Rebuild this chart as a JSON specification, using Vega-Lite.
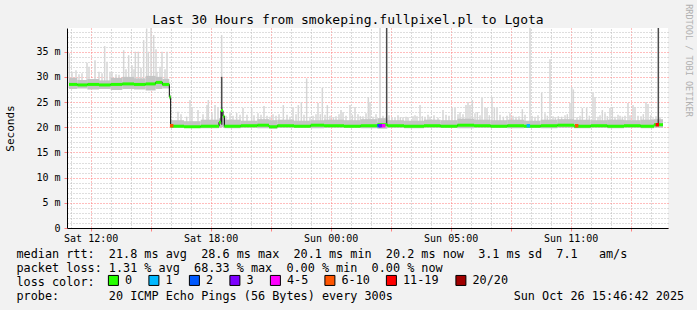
{
  "$schema": "https://vega.github.io/schema/vega-lite/v6.json",
  "width": 601,
  "height": 200,
  "autosize": "none",
  "padding": {"left": 67, "top": 28, "right": 29, "bottom": 82},
  "background": "#f2f2f2",
  "config": {
    "view": {"fill": "#ffffff", "stroke": null},
    "font": "DejaVu Sans Mono",
    "axis": {"labelFont": "DejaVu Sans Mono", "titleFont": "DejaVu Sans Mono", "labelColor": "#000000", "titleColor": "#000000", "titleFontWeight": "normal", "labelOverlap": false, "labelBound": false, "labelFlush": false},
    "legend": {"labelFont": "DejaVu Sans Mono", "titleFont": "DejaVu Sans Mono"}
  },
  "datasets": {
    "seg": [
      {"t": -65, "t2": -40, "lo": 27.6, "q": 29.8, "m": 28.5},
      {"t": -40, "t2": -10, "lo": 27.7, "q": 29.4, "m": 28.4},
      {"t": -10, "t2": 25, "lo": 27.5, "q": 29.6, "m": 28.5},
      {"t": 25, "t2": 60, "lo": 27.6, "q": 29.3, "m": 28.4},
      {"t": 60, "t2": 95, "lo": 27.4, "q": 29.8, "m": 28.5},
      {"t": 95, "t2": 130, "lo": 27.6, "q": 30.0, "m": 28.6},
      {"t": 130, "t2": 165, "lo": 27.5, "q": 29.7, "m": 28.5},
      {"t": 165, "t2": 195, "lo": 27.3, "q": 30.2, "m": 28.6},
      {"t": 195, "t2": 215, "lo": 27.6, "q": 30.0, "m": 28.9},
      {"t": 215, "t2": 236, "lo": 27.7, "q": 29.6, "m": 28.5},
      {"t": 236, "t2": 240, "lo": 25.5, "q": 26.5, "m": 26.0},
      {"t": 240, "t2": 280, "lo": 19.9, "q": 21.4, "m": 20.2},
      {"t": 280, "t2": 330, "lo": 19.9, "q": 21.2, "m": 20.1},
      {"t": 330, "t2": 385, "lo": 19.8, "q": 21.5, "m": 20.2},
      {"t": 385, "t2": 391, "lo": 19.9, "q": 21.8, "m": 21.0},
      {"t": 391, "t2": 397, "lo": 20.0, "q": 24.0, "m": 23.3},
      {"t": 397, "t2": 401, "lo": 19.9, "q": 22.5, "m": 22.2},
      {"t": 401, "t2": 450, "lo": 19.8, "q": 21.5, "m": 20.2},
      {"t": 450, "t2": 500, "lo": 19.9, "q": 21.3, "m": 20.3},
      {"t": 500, "t2": 535, "lo": 19.8, "q": 21.6, "m": 20.4},
      {"t": 535, "t2": 560, "lo": 19.7, "q": 21.4, "m": 20.1},
      {"t": 560, "t2": 610, "lo": 19.9, "q": 21.5, "m": 20.3},
      {"t": 610, "t2": 660, "lo": 19.9, "q": 21.3, "m": 20.2},
      {"t": 660, "t2": 700, "lo": 19.8, "q": 21.4, "m": 20.4},
      {"t": 700, "t2": 760, "lo": 19.9, "q": 21.5, "m": 20.3},
      {"t": 760, "t2": 810, "lo": 19.9, "q": 21.4, "m": 20.2},
      {"t": 810, "t2": 860, "lo": 19.8, "q": 21.6, "m": 20.3},
      {"t": 860, "t2": 890, "lo": 19.7, "q": 21.8, "m": 20.5},
      {"t": 890, "t2": 940, "lo": 19.9, "q": 21.4, "m": 20.3},
      {"t": 940, "t2": 1000, "lo": 19.8, "q": 21.3, "m": 20.2},
      {"t": 1000, "t2": 1050, "lo": 19.9, "q": 21.5, "m": 20.3},
      {"t": 1050, "t2": 1100, "lo": 19.9, "q": 21.4, "m": 20.2},
      {"t": 1100, "t2": 1150, "lo": 19.8, "q": 21.7, "m": 20.4},
      {"t": 1150, "t2": 1200, "lo": 19.9, "q": 21.5, "m": 20.3},
      {"t": 1200, "t2": 1250, "lo": 19.9, "q": 21.4, "m": 20.2},
      {"t": 1250, "t2": 1300, "lo": 19.8, "q": 21.5, "m": 20.3},
      {"t": 1300, "t2": 1350, "lo": 19.9, "q": 21.3, "m": 20.2},
      {"t": 1350, "t2": 1400, "lo": 19.8, "q": 21.5, "m": 20.3},
      {"t": 1400, "t2": 1450, "lo": 19.9, "q": 21.6, "m": 20.4},
      {"t": 1450, "t2": 1500, "lo": 19.8, "q": 21.5, "m": 20.2},
      {"t": 1500, "t2": 1550, "lo": 19.9, "q": 21.4, "m": 20.3},
      {"t": 1550, "t2": 1600, "lo": 19.8, "q": 21.5, "m": 20.2},
      {"t": 1600, "t2": 1650, "lo": 19.9, "q": 21.4, "m": 20.3},
      {"t": 1650, "t2": 1690, "lo": 19.8, "q": 21.5, "m": 20.2},
      {"t": 1690, "t2": 1717, "lo": 19.9, "q": 21.6, "m": 20.5}
    ],
    "spikes": [
      {"t": -64, "lo": 28, "hi": 34.7}, {"t": -56, "lo": 28, "hi": 31.0}, {"t": -44, "lo": 28, "hi": 31.3},
      {"t": -35, "lo": 28, "hi": 30.5}, {"t": -26, "lo": 28, "hi": 30.7}, {"t": -11, "lo": 28, "hi": 32.8},
      {"t": -5, "lo": 28, "hi": 32.0}, {"t": 13, "lo": 28, "hi": 33.3}, {"t": 25, "lo": 28, "hi": 31.0},
      {"t": 34, "lo": 28, "hi": 30.7}, {"t": 42, "lo": 28, "hi": 36.1}, {"t": 49, "lo": 28, "hi": 33.0},
      {"t": 58, "lo": 28, "hi": 31.0}, {"t": 64, "lo": 28, "hi": 31.0}, {"t": 76, "lo": 28, "hi": 30.5},
      {"t": 85, "lo": 28, "hi": 30.4}, {"t": 99, "lo": 28, "hi": 35.3}, {"t": 106, "lo": 28, "hi": 31.5},
      {"t": 114, "lo": 28, "hi": 34.3}, {"t": 124, "lo": 28, "hi": 32.3}, {"t": 130, "lo": 28, "hi": 31.5},
      {"t": 134, "lo": 28, "hi": 35.0}, {"t": 143, "lo": 28, "hi": 35.0}, {"t": 151, "lo": 28, "hi": 31.8},
      {"t": 159, "lo": 28, "hi": 37.3}, {"t": 168, "lo": 28, "hi": 39.6}, {"t": 173, "lo": 28, "hi": 35.0},
      {"t": 181, "lo": 28, "hi": 39.7}, {"t": 189, "lo": 28, "hi": 38.3}, {"t": 196, "lo": 28, "hi": 35.5},
      {"t": 199, "lo": 28, "hi": 31.0}, {"t": 208, "lo": 28, "hi": 32.0}, {"t": 214, "lo": 28, "hi": 35.0},
      {"t": 223, "lo": 28, "hi": 31.5}, {"t": 229, "lo": 28, "hi": 35.0},
      {"t": 262, "lo": 20.3, "hi": 23.1}, {"t": 271, "lo": 20.3, "hi": 22.6}, {"t": 288, "lo": 20.3, "hi": 22.1},
      {"t": 298, "lo": 20.3, "hi": 25.4}, {"t": 304, "lo": 20.3, "hi": 24.0}, {"t": 322, "lo": 20.3, "hi": 23.4},
      {"t": 337, "lo": 20.3, "hi": 22.6}, {"t": 349, "lo": 20.3, "hi": 24.4}, {"t": 353, "lo": 20.3, "hi": 25.4},
      {"t": 364, "lo": 20.3, "hi": 22.8}, {"t": 373, "lo": 20.3, "hi": 24.4}, {"t": 382, "lo": 20.3, "hi": 24.0},
      {"t": 393, "lo": 20.3, "hi": 38.3}, {"t": 406, "lo": 20.3, "hi": 22.3}, {"t": 418, "lo": 20.3, "hi": 22.8},
      {"t": 427, "lo": 20.3, "hi": 22.3}, {"t": 438, "lo": 20.3, "hi": 22.8}, {"t": 448, "lo": 20.3, "hi": 22.5},
      {"t": 457, "lo": 20.3, "hi": 23.8}, {"t": 469, "lo": 20.3, "hi": 22.5}, {"t": 483, "lo": 20.3, "hi": 23.8},
      {"t": 490, "lo": 20.3, "hi": 22.4}, {"t": 502, "lo": 20.3, "hi": 22.8}, {"t": 511, "lo": 20.3, "hi": 22.5},
      {"t": 520, "lo": 20.3, "hi": 24.2}, {"t": 529, "lo": 20.3, "hi": 22.3}, {"t": 538, "lo": 20.3, "hi": 22.1},
      {"t": 547, "lo": 20.3, "hi": 22.6}, {"t": 556, "lo": 20.3, "hi": 22.3}, {"t": 565, "lo": 20.3, "hi": 22.6},
      {"t": 578, "lo": 20.3, "hi": 24.4}, {"t": 589, "lo": 20.3, "hi": 22.5}, {"t": 598, "lo": 20.3, "hi": 22.1},
      {"t": 607, "lo": 20.3, "hi": 23.8}, {"t": 616, "lo": 20.3, "hi": 22.6}, {"t": 623, "lo": 20.3, "hi": 24.4},
      {"t": 632, "lo": 20.3, "hi": 25.0}, {"t": 640, "lo": 20.3, "hi": 22.5}, {"t": 648, "lo": 20.3, "hi": 29.7},
      {"t": 658, "lo": 20.3, "hi": 22.1}, {"t": 667, "lo": 20.3, "hi": 22.3}, {"t": 676, "lo": 20.3, "hi": 22.6},
      {"t": 682, "lo": 20.3, "hi": 24.8}, {"t": 689, "lo": 20.3, "hi": 22.6}, {"t": 695, "lo": 20.3, "hi": 27.8},
      {"t": 703, "lo": 20.3, "hi": 22.5}, {"t": 710, "lo": 20.3, "hi": 24.4}, {"t": 718, "lo": 20.3, "hi": 22.3},
      {"t": 728, "lo": 20.3, "hi": 22.0}, {"t": 736, "lo": 20.3, "hi": 22.2}, {"t": 745, "lo": 20.3, "hi": 22.6},
      {"t": 751, "lo": 20.3, "hi": 23.4}, {"t": 757, "lo": 20.3, "hi": 23.0}, {"t": 766, "lo": 20.3, "hi": 22.3},
      {"t": 778, "lo": 20.3, "hi": 24.4}, {"t": 785, "lo": 20.3, "hi": 22.5}, {"t": 793, "lo": 20.3, "hi": 24.0},
      {"t": 802, "lo": 20.3, "hi": 22.6}, {"t": 809, "lo": 20.3, "hi": 22.2}, {"t": 817, "lo": 20.3, "hi": 22.2},
      {"t": 826, "lo": 20.3, "hi": 22.8}, {"t": 833, "lo": 20.3, "hi": 26.0}, {"t": 838, "lo": 20.3, "hi": 25.0},
      {"t": 847, "lo": 20.3, "hi": 22.1}, {"t": 856, "lo": 20.3, "hi": 22.6}, {"t": 868, "lo": 20.3, "hi": 40.5},
      {"t": 877, "lo": 20.3, "hi": 22.3}, {"t": 895, "lo": 20.3, "hi": 22.4}, {"t": 904, "lo": 20.3, "hi": 22.0},
      {"t": 913, "lo": 20.3, "hi": 21.9}, {"t": 922, "lo": 20.3, "hi": 22.4}, {"t": 929, "lo": 20.3, "hi": 22.0},
      {"t": 937, "lo": 20.3, "hi": 22.0}, {"t": 946, "lo": 20.3, "hi": 22.1}, {"t": 952, "lo": 20.3, "hi": 22.0},
      {"t": 967, "lo": 20.3, "hi": 22.2}, {"t": 973, "lo": 20.3, "hi": 22.4}, {"t": 979, "lo": 20.3, "hi": 22.2},
      {"t": 988, "lo": 20.3, "hi": 24.4}, {"t": 995, "lo": 20.3, "hi": 22.2}, {"t": 1003, "lo": 20.3, "hi": 22.1},
      {"t": 1012, "lo": 20.3, "hi": 22.5}, {"t": 1018, "lo": 20.3, "hi": 22.1}, {"t": 1030, "lo": 20.3, "hi": 22.4},
      {"t": 1042, "lo": 20.3, "hi": 21.9}, {"t": 1057, "lo": 20.3, "hi": 23.4}, {"t": 1066, "lo": 20.3, "hi": 22.5},
      {"t": 1075, "lo": 20.3, "hi": 22.3}, {"t": 1084, "lo": 20.3, "hi": 23.8}, {"t": 1093, "lo": 20.3, "hi": 23.8},
      {"t": 1102, "lo": 20.3, "hi": 22.6}, {"t": 1108, "lo": 20.3, "hi": 23.0}, {"t": 1117, "lo": 20.3, "hi": 22.6},
      {"t": 1126, "lo": 20.3, "hi": 24.4}, {"t": 1132, "lo": 20.3, "hi": 25.0}, {"t": 1138, "lo": 20.3, "hi": 24.4},
      {"t": 1145, "lo": 20.3, "hi": 25.4}, {"t": 1153, "lo": 20.3, "hi": 22.8}, {"t": 1160, "lo": 20.3, "hi": 23.0},
      {"t": 1168, "lo": 20.3, "hi": 22.4}, {"t": 1174, "lo": 20.3, "hi": 25.8}, {"t": 1183, "lo": 20.3, "hi": 23.8},
      {"t": 1189, "lo": 20.3, "hi": 23.8}, {"t": 1196, "lo": 20.3, "hi": 22.4}, {"t": 1204, "lo": 20.3, "hi": 26.0},
      {"t": 1211, "lo": 20.3, "hi": 23.8}, {"t": 1219, "lo": 20.3, "hi": 23.8}, {"t": 1228, "lo": 20.3, "hi": 22.5},
      {"t": 1238, "lo": 20.3, "hi": 22.1}, {"t": 1249, "lo": 20.3, "hi": 22.3}, {"t": 1258, "lo": 20.3, "hi": 22.8},
      {"t": 1267, "lo": 20.3, "hi": 22.3}, {"t": 1276, "lo": 20.3, "hi": 22.1}, {"t": 1285, "lo": 20.3, "hi": 22.2},
      {"t": 1295, "lo": 20.3, "hi": 23.6}, {"t": 1303, "lo": 20.3, "hi": 22.5}, {"t": 1318, "lo": 20.3, "hi": 40.5},
      {"t": 1324, "lo": 20.3, "hi": 22.3}, {"t": 1333, "lo": 20.3, "hi": 22.1}, {"t": 1342, "lo": 20.3, "hi": 22.4},
      {"t": 1353, "lo": 20.3, "hi": 26.8}, {"t": 1363, "lo": 20.3, "hi": 22.8}, {"t": 1370, "lo": 20.3, "hi": 22.3},
      {"t": 1378, "lo": 20.3, "hi": 33.5}, {"t": 1387, "lo": 20.3, "hi": 22.2}, {"t": 1394, "lo": 20.3, "hi": 22.0},
      {"t": 1403, "lo": 20.3, "hi": 22.2}, {"t": 1413, "lo": 20.3, "hi": 22.1}, {"t": 1423, "lo": 20.3, "hi": 22.4},
      {"t": 1430, "lo": 20.3, "hi": 22.6}, {"t": 1438, "lo": 20.3, "hi": 24.8}, {"t": 1443, "lo": 20.3, "hi": 28.0},
      {"t": 1448, "lo": 20.3, "hi": 27.5}, {"t": 1459, "lo": 20.3, "hi": 22.0}, {"t": 1468, "lo": 20.3, "hi": 22.3},
      {"t": 1475, "lo": 20.3, "hi": 23.8}, {"t": 1488, "lo": 20.3, "hi": 23.8}, {"t": 1496, "lo": 20.3, "hi": 22.3},
      {"t": 1507, "lo": 20.3, "hi": 26.8}, {"t": 1513, "lo": 20.3, "hi": 26.0}, {"t": 1522, "lo": 20.3, "hi": 22.1},
      {"t": 1528, "lo": 20.3, "hi": 22.4}, {"t": 1535, "lo": 20.3, "hi": 23.4}, {"t": 1543, "lo": 20.3, "hi": 22.8},
      {"t": 1550, "lo": 20.3, "hi": 22.2}, {"t": 1558, "lo": 20.3, "hi": 23.8}, {"t": 1565, "lo": 20.3, "hi": 24.0},
      {"t": 1573, "lo": 20.3, "hi": 22.1}, {"t": 1582, "lo": 20.3, "hi": 22.5}, {"t": 1588, "lo": 20.3, "hi": 22.3},
      {"t": 1595, "lo": 20.3, "hi": 22.1}, {"t": 1603, "lo": 20.3, "hi": 22.3}, {"t": 1612, "lo": 20.3, "hi": 24.8},
      {"t": 1618, "lo": 20.3, "hi": 22.4}, {"t": 1627, "lo": 20.3, "hi": 24.4}, {"t": 1633, "lo": 20.3, "hi": 24.0},
      {"t": 1642, "lo": 20.3, "hi": 22.3}, {"t": 1651, "lo": 20.3, "hi": 22.2}, {"t": 1658, "lo": 20.3, "hi": 22.6},
      {"t": 1666, "lo": 20.3, "hi": 25.0}, {"t": 1672, "lo": 20.3, "hi": 24.6}, {"t": 1680, "lo": 20.3, "hi": 22.4},
      {"t": 1687, "lo": 20.3, "hi": 21.8}, {"t": 1696, "lo": 20.3, "hi": 22.2}, {"t": 1708, "lo": 20.3, "hi": 22.0}
    ],
    "vlines": [
      {"t": 393, "lo": 20.5, "hi": 30.0},
      {"t": 888, "lo": 20.5, "hi": 40.5},
      {"t": 1703, "lo": 20.5, "hi": 40.5}
    ],
    "loss": [
      {"t": 243, "m": 20.3, "l": "6-10"},
      {"t": 865, "m": 20.3, "l": "2"},
      {"t": 870, "m": 20.3, "l": "3"},
      {"t": 879, "m": 20.3, "l": "4-5"},
      {"t": 1313, "m": 20.3, "l": "1"},
      {"t": 1458, "m": 20.3, "l": "6-10"},
      {"t": 1700, "m": 20.5, "l": "11-19"}
    ]
  },
  "layer": [
    {
      "data": {"name": "spikes"},
      "mark": {"type": "rule", "color": "#d6d6d6", "strokeWidth": 1.5, "clip": true},
      "encoding": {
        "x": {
          "field": "t", "type": "quantitative",
          "scale": {"domain": [-71, 1732], "nice": false, "zero": false},
          "axis": {
            "orient": "top",
            "values": [-60, 60, 120, 240, 300, 420, 480, 600, 660, 780, 840, 960, 1020, 1140, 1200, 1320, 1380, 1500, 1560, 1680],
            "grid": true, "gridColor": "#b4b4b4", "gridDash": [1, 2], "gridWidth": 1,
            "labels": false, "ticks": false, "domain": false,
            "title": "Last 30 Hours from smokeping.fullpixel.pl to Lgota",
            "titleFontSize": 13, "titleX": 280.5, "titleY": -9, "titleAlign": "center", "titleBaseline": "middle", "titleAngle": 0
          }
        },
        "y": {
          "field": "hi", "type": "quantitative",
          "scale": {"domain": [0, 39.7], "nice": false, "zero": true},
          "axis": {
            "orient": "right",
            "values": [1, 2, 3, 4, 6, 7, 8, 9, 11, 12, 13, 14, 16, 17, 18, 19, 21, 22, 23, 24, 26, 27, 28, 29, 31, 32, 33, 34, 36, 37, 38, 39],
            "grid": true, "gridColor": "#bcbcbc", "gridDash": [1, 2], "gridWidth": 1,
            "labels": false, "ticks": false, "domain": false,
            "title": "RRDTOOL / TOBI OETIKER",
            "titleFontSize": 8.5, "titleColor": "#b0b0b0", "titleAngle": 90, "titleX": 20, "titleY": 32, "titleAlign": "center", "titleBaseline": "middle"
          }
        },
        "y2": {"field": "lo"}
      }
    },
    {
      "data": {"name": "seg"},
      "mark": {"type": "rect", "color": "#c4c4c4"},
      "encoding": {
        "x": {
          "field": "t", "type": "quantitative",
          "axis": {
            "orient": "bottom",
            "values": [0, 180, 360, 540, 720, 900, 1080, 1260, 1440, 1620],
            "labelExpr": "datum.value == 0 ? 'Sat 12:00' : datum.value == 360 ? 'Sat 18:00' : datum.value == 720 ? 'Sun 00:00' : datum.value == 1080 ? 'Sun 05:00' : datum.value == 1440 ? 'Sun 11:00' : ''",
            "labelFontSize": 10, "labelPadding": 2, "labelAngle": 0, "labelAlign": "center", "labelBaseline": "top",
            "grid": true, "gridColor": "#ff7a7a", "gridDash": [1, 2], "gridWidth": 1,
            "ticks": true, "tickColor": "#ff8080", "tickSize": 3, "tickWidth": 1,
            "domain": true, "domainColor": "#000000", "domainWidth": 1,
            "title": [
              "median rtt:\u00a0\u00a021.8 ms avg\u00a0\u00a028.6 ms max\u00a0\u00a020.1 ms min\u00a0\u00a020.2 ms now\u00a0\u00a03.1 ms sd\u00a0\u00a07.1\u00a0\u00a0\u00a0am/s",
              "packet loss:\u00a01.31 % avg\u00a0\u00a068.33 % max\u00a0\u00a00.00 % min\u00a0\u00a00.00 % now",
              "loss color:",
              "probe:\u00a0\u00a0\u00a0\u00a0\u00a0\u00a0\u00a020 ICMP Echo Pings (56 Bytes) every 300s\u00a0\u00a0\u00a0\u00a0\u00a0\u00a0\u00a0\u00a0\u00a0\u00a0\u00a0\u00a0\u00a0\u00a0\u00a0\u00a0\u00a0Sun Oct 26 15:46:42 2025"
            ],
            "titleFontSize": 11.8, "titleLineHeight": 14, "titleX": -51, "titleY": 20, "titleAlign": "left", "titleBaseline": "top", "titleAngle": 0
          }
        },
        "x2": {"field": "t2"},
        "y": {
          "field": "lo", "type": "quantitative",
          "axis": {
            "orient": "left",
            "values": [0, 5, 10, 15, 20, 25, 30, 35],
            "labelExpr": "datum.value == 0 ? '0\u00a0\u00a0' : datum.value + ' m'",
            "labelFontSize": 10, "labelPadding": 4, "labelAlign": "right", "labelBaseline": "middle",
            "grid": true, "gridColor": "#ff7a7a", "gridDash": [1, 2], "gridWidth": 1,
            "ticks": true, "tickColor": "#ff8080", "tickSize": 3,
            "domain": true, "domainColor": "#000000", "domainWidth": 1,
            "title": "Seconds",
            "titleFontSize": 11, "titleAngle": 270, "titleX": -57, "titleY": 100, "titleAlign": "center", "titleBaseline": "middle"
          }
        },
        "y2": {"field": "q"}
      }
    },
    {
      "data": {"name": "vlines"},
      "mark": {"type": "rule", "color": "#4a4a4a", "strokeWidth": 1.5, "clip": true},
      "encoding": {
        "x": {"field": "t", "type": "quantitative", "axis": null},
        "y": {"field": "lo", "type": "quantitative", "axis": null},
        "y2": {"field": "hi"}
      }
    },
    {
      "data": {"name": "seg"},
      "mark": {"type": "line", "interpolate": "step-after", "color": "#000000", "strokeWidth": 1},
      "encoding": {
        "x": {"field": "t", "type": "quantitative", "axis": null},
        "y": {"field": "m", "type": "quantitative", "axis": null}
      }
    },
    {
      "data": {"name": "seg"},
      "mark": {"type": "rule", "color": "#26ff00", "strokeWidth": 3},
      "encoding": {
        "x": {"field": "t", "type": "quantitative", "axis": null},
        "x2": {"field": "t2"},
        "y": {"field": "m", "type": "quantitative", "axis": null}
      }
    },
    {
      "data": {"name": "loss"},
      "mark": {"type": "square", "size": 12, "opacity": 1},
      "encoding": {
        "x": {"field": "t", "type": "quantitative", "axis": null},
        "y": {"field": "m", "type": "quantitative", "axis": null},
        "color": {
          "field": "l", "type": "nominal",
          "scale": {
            "domain": ["0", "1", "2", "3", "4-5", "6-10", "11-19", "20/20"],
            "range": ["#26ff00", "#00b8ff", "#0059ff", "#7e00ff", "#ff00ff", "#ff5500", "#ff0000", "#a10000"]
          },
          "legend": {
            "orient": "none", "legendX": 40.5, "legendY": 246.5, "direction": "horizontal", "title": null,
            "padding": 0, "offset": 0, "symbolType": "square", "symbolSize": 100, "symbolStrokeColor": "#000000",
            "symbolStrokeWidth": 1, "symbolOpacity": 1, "labelFontSize": 11.8, "labelColor": "#000000",
            "labelOffset": 5.7, "columnPadding": 13.5, "rowPadding": 0
          }
        }
      }
    }
  ],
  "resolve": {"axis": {"x": "independent", "y": "independent"}}
}
